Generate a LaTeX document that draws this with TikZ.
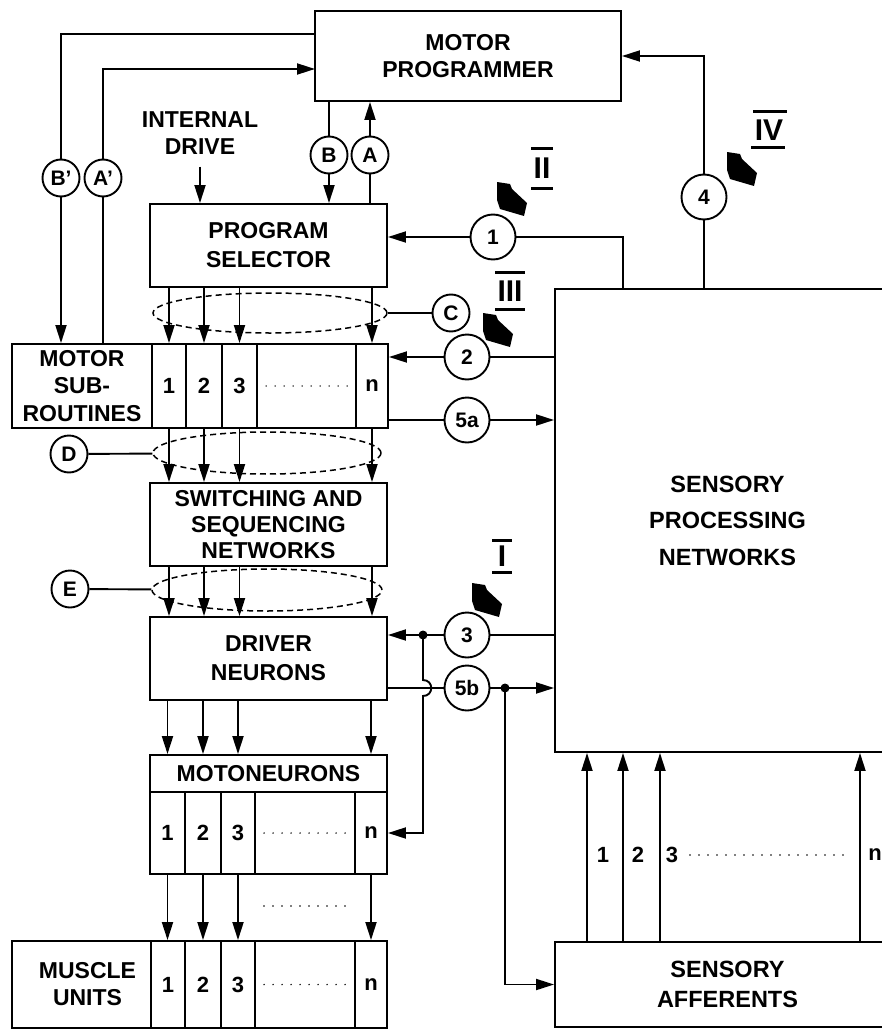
\documentclass[tikz,border=0pt]{standalone}
\usepackage{fontspec}
\setmainfont{Liberation Sans}
\usetikzlibrary{arrows.meta,shapes.geometric,calc}
\newcommand\myfs[2]{\fontsize{#1}{#2}\selectfont\bfseries}
\begin{document}
\begin{tikzpicture}[x=1pt,y=-1pt,
  ln/.style={line width=1.9pt},
  box/.style={draw,ln,rectangle,inner sep=0pt,align=center,font=\myfs{23}{27}},
  cell/.style={box,font=\myfs{22}{24}},
  txt/.style={font=\myfs{23}{27},align=center,inner sep=0pt},
  circ/.style={draw,ln,circle,inner sep=0pt,minimum size=45pt,font=\myfs{21}{24}},
  scirc/.style={circ,minimum size=37pt},
  arr/.style={ln,-{Triangle[length=18pt,width=11pt]}},
  dell/.style={draw,ellipse,line width=1.5pt,dash pattern=on 6pt off 4pt,inner sep=0pt},
  dotline/.style={line width=1.6pt,dash pattern=on 0pt off 9pt,line cap=round},
  rbar/.style={line width=3pt},
  rom/.style={font=\myfs{30}{30},inner sep=0pt}
]
\useasboundingbox (0,0) rectangle (882,1030);
\clip (0,0) rectangle (882,1030);

% main boxes
\node[box,minimum width=306pt,minimum height=90pt] (mp) at (468,56) {MOTOR\\PROGRAMMER};
\node[txt] (id) at (200,133) {INTERNAL\\DRIVE};
\node[box,minimum width=237pt,minimum height=83pt,font=\myfs{23}{29}] (ps) at (268.5,245.5) {PROGRAM\\SELECTOR};

% motor subroutines
\node[box,minimum width=140pt,minimum height=84pt,font=\myfs{23}{27.5}] (msl) at (82,386) {MOTOR\\SUB-\\ROUTINES};
\node[cell,minimum width=34pt,minimum height=84pt] (ms1) at (169,386) {1};
\node[cell,minimum width=36pt,minimum height=84pt] (ms2) at (204,386) {2};
\node[cell,minimum width=35pt,minimum height=84pt] (ms3) at (239.5,386) {3};
\node[cell,minimum width=99pt,minimum height=84pt] (msd) at (306.5,386) {};
\node[cell,minimum width=32pt,minimum height=84pt] (msn) at (372,386) {n};
\draw[dotline] ([xshift=10pt]msd.west) -- ([xshift=-9pt]msd.east);

\node[box,minimum width=237pt,minimum height=83pt,font=\myfs{23}{26}] (sw) at (268.5,524.5) {SWITCHING AND\\SEQUENCING\\NETWORKS};
\node[box,minimum width=237pt,minimum height=83pt,font=\myfs{23}{29}] (dn) at (268.5,658.5) {DRIVER\\NEURONS};

% motoneurons
\node[box,minimum width=237pt,minimum height=37pt] (mnh) at (268.5,773.5) {MOTONEURONS};
\node[cell,minimum width=35pt,minimum height=82pt] (mn1) at (167.5,833) {1};
\node[cell,minimum width=36pt,minimum height=82pt] (mn2) at (203,833) {2};
\node[cell,minimum width=34pt,minimum height=82pt] (mn3) at (238,833) {3};
\node[cell,minimum width=100pt,minimum height=82pt] (mnd) at (305,833) {};
\node[cell,minimum width=32pt,minimum height=82pt] (mnn) at (371,833) {n};
\draw[dotline] ([xshift=10pt]mnd.west) -- ([xshift=-9pt]mnd.east);

% muscle units
\node[box,minimum width=139pt,minimum height=87pt] (mul) at (81.5,984.5) {\hspace*{12pt}MUSCLE\\\hspace*{12pt}UNITS};
\node[cell,minimum width=34pt,minimum height=87pt] (mu1) at (168,984.5) {1};
\node[cell,minimum width=36pt,minimum height=87pt] (mu2) at (203,984.5) {2};
\node[cell,minimum width=34pt,minimum height=87pt] (mu3) at (238,984.5) {3};
\node[cell,minimum width=100pt,minimum height=87pt] (mud) at (305,984.5) {};
\node[cell,minimum width=32pt,minimum height=87pt] (mun) at (371,984.5) {n};
\draw[dotline] ([xshift=10pt]mud.west) -- ([xshift=-9pt]mud.east);
\draw[dotline] (264,906) -- (346,906);

% sensory
\node[box,minimum width=345pt,minimum height=463pt,font=\myfs{23.5}{36.5}] (sp) at (727.5,520.5) {SENSORY\\PROCESSING\\NETWORKS};
\node[box,minimum width=345pt,minimum height=85pt,font=\myfs{23.5}{30}] (sa) at (727.5,984.5) {SENSORY\\AFFERENTS};

% circles
\node[scirc] (cB) at (329,155) {B};
\node[scirc] (cA) at (370,155) {A};
\node[scirc] (cBp) at (61,178) {B’};
\node[scirc] (cAp) at (103,178) {A’};
\node[circ] (c1) at (493,237) {1};
\node[circ] (c2) at (467,357) {2};
\node[circ] (c5a) at (467,420) {5a};
\node[circ] (c3) at (467,635) {3};
\node[circ] (c5b) at (467,688) {5b};
\node[circ] (c4) at (704,197) {4};
\node[scirc] (cC) at (451,313) {C};
\node[scirc] (cD) at (69,454) {D};
\node[scirc] (cE) at (70,589) {E};

% dashed ellipses
\node[dell,minimum width=234pt,minimum height=40pt] (elC) at (270,313) {};
\node[dell,minimum width=228pt,minimum height=42pt] (elD) at (267,453) {};
\node[dell,minimum width=230pt,minimum height=42pt] (elE) at (267,590) {};
\draw[ln] (elC) -- (cC);
\draw[ln] (cD) -- (elD);
\draw[ln] (cE) -- (elE);

% motor programmer loops
\coordinate (mpB) at (315,34);
\coordinate (mpA) at (315,69);
\draw[ln] (mpB) -| (cBp);
\draw[arr] (cBp) -- (cBp |- msl.north);
\draw[ln] (msl.north -| cAp) -- (cAp);
\draw[arr] (cAp) |- (mpA);
\draw[ln] (mp.south -| cB) -- (cB);
\draw[arr] (cB) -- (cB |- ps.north);
\draw[ln] (ps.north -| cA) -- (cA);
\draw[arr] (cA) -- (cA |- mp.south);
\draw[arr] ([yshift=-12pt]id.south) -- (id.south |- ps.north);

% feedback pathways
\coordinate (sp1) at (623,289);
\coordinate (sp4) at (704,289);
\draw[arr] (c1) -- (c1 -| ps.east);
\draw[ln] (c1) -| (sp1);
\draw[ln] (sp4) -- (c4);
\draw[arr] (c4) |- (mp.east);
\draw[arr] (c2) -- (c2 -| msn.east);
\draw[ln] (c2) -- (c2 -| sp.west);
\draw[ln] (msn.east |- c5a) -- (c5a);
\draw[arr] (c5a) -- (c5a -| sp.west);

\coordinate (j3) at (423,635);
\coordinate (j5) at (505,688);
\draw[arr] (c3) -- (c3 -| dn.east);
\draw[ln] (c3) -- (c3 -| sp.west);
\draw[ln] (dn.east |- c5b) -- (c5b);
\draw[arr] (c5b) -- (c5b -| sp.west);
\fill (j3) circle (4.5pt);
\fill (j5) circle (4.5pt);
\draw[arr] (j3) -- ($(j3)+(0,45)$) .. controls +(11,0) and +(11,0) .. ($(j3)+(0,61)$) |- (mnn.east);
\draw[arr] (j5) |- (sa.west);

% vertical flow arrows
\foreach \k in {ms1,ms2,ms3,msn} {
  \draw[arr] (ps.south -| \k) -- (\k.north);
  \draw[arr] (\k.south) -- (sw.north -| \k);
  \draw[arr] (sw.south -| \k) -- (dn.north -| \k);
}
\foreach \k/\m in {mn1/mu1,mn2/mu2,mn3/mu3,mnn/mun} {
  \draw[arr] (dn.south -| \k) -- (mnh.north -| \k);
  \draw[arr] (\k.south) -- (\m.north -| \k);
}

% sensory afferent arrows
\coordinate (f1) at (587,0);
\coordinate (f2) at (623,0);
\coordinate (f3) at (660,0);
\coordinate (fn) at (860,0);
\foreach \f in {f1,f2,f3,fn} {\draw[arr] (sa.north -| \f) -- (sp.south -| \f);}
\node[txt,font=\myfs{22}{24}] (la1) at (603,855) {1};
\node[txt,font=\myfs{22}{24}] (la2) at (638,855) {2};
\node[txt,font=\myfs{22}{24}] (la3) at (672,855) {3};
\node[txt,font=\myfs{22}{24}] (lan) at (875,855) {n};
\draw[dotline] (690,855) -- (848,855);

% roman numeral labels
\node[rom] (rII) at (542,168) {II};
\draw[rbar] ($(rII)+(-11,-20)$) -- ($(rII)+(11,-20)$);
\draw[rbar] ($(rII)+(-11,20)$) -- ($(rII)+(11,20)$);
\node[rom] (rIII) at (510,291) {III};
\draw[rbar] ($(rIII)+(-15,-18.5)$) -- ($(rIII)+(15,-18.5)$);
\draw[rbar] ($(rIII)+(-15,18.5)$) -- ($(rIII)+(15,18.5)$);
\node[rom] (rI) at (502,556) {I};
\draw[rbar] ($(rI)+(-10,-16)$) -- ($(rI)+(10,-16)$);
\draw[rbar] ($(rI)+(-10,16)$) -- ($(rI)+(10,16)$);
\node[rom] (rIV) at (769,130) {IV};
\draw[rbar] ($(rIV)+(-16,-18)$) -- ($(rIV)+(18,-18)$);
\draw[rbar] ($(rIV)+(-18,17)$) -- ($(rIV)+(16,17)$);

% big pointer arrows
\foreach \p in {{(497,182)},{(483,313)},{(472,583)},{(727,152)}} {
  \fill[shift=\p] (0,0) -- (13,2) -- (15,7) -- (30,21) -- (27,34) -- (3,27) -- (0,18) -- cycle;
}
\end{tikzpicture}
\end{document}
